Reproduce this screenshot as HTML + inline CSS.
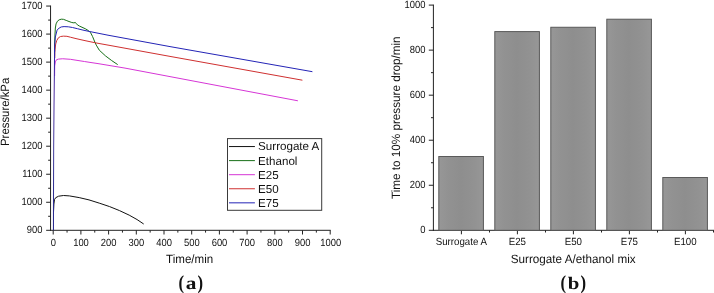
<!DOCTYPE html>
<html><head><meta charset="utf-8"><title>Figure</title>
<style>
html,body{margin:0;padding:0;background:#fff;}
body{width:714px;height:293px;overflow:hidden;}
svg{display:block;font-family:"Liberation Sans",sans-serif;}
text{fill:#111;text-rendering:geometricPrecision;}
</style></head><body>
<svg width="714" height="293" viewBox="0 0 714 293">
<defs><linearGradient id="rg" gradientUnits="userSpaceOnUse" x1="0" y1="231" x2="0" y2="50"><stop offset="0" stop-color="#24248c"/><stop offset="0.2" stop-color="#2e2e92"/><stop offset="0.45" stop-color="#4a44a0"/><stop offset="0.8" stop-color="#5634a6"/><stop offset="1" stop-color="#2a22ac"/></linearGradient><linearGradient id="bg" x1="0" x2="1" y1="0" y2="0"><stop offset="0" stop-color="#979797"/><stop offset="0.2" stop-color="#929292"/><stop offset="0.5" stop-color="#8e8e8e"/><stop offset="0.8" stop-color="#929292"/><stop offset="1" stop-color="#979797"/></linearGradient></defs>
<rect width="714" height="293" fill="#fff"/>
<g stroke="#222" stroke-width="1" fill="none" stroke-linecap="butt">
<path d="M50.55 5.56V230.8M50.05 230.3H330.7"/>
<path d="M46.15 230.30H50.55M48.15 216.29H50.55M46.15 202.27H50.55M48.15 188.25H50.55M46.15 174.24H50.55M48.15 160.23H50.55M46.15 146.21H50.55M48.15 132.19H50.55M46.15 118.18H50.55M48.15 104.17H50.55M46.15 90.15H50.55M48.15 76.14H50.55M46.15 62.12H50.55M48.15 48.11H50.55M46.15 34.09H50.55M48.15 20.08H50.55M46.15 6.06H50.55M53.20 230.3V234.5M67.05 230.3V232.60000000000002M80.90 230.3V234.5M94.75 230.3V232.60000000000002M108.60 230.3V234.5M122.45 230.3V232.60000000000002M136.30 230.3V234.5M150.15 230.3V232.60000000000002M164.00 230.3V234.5M177.85 230.3V232.60000000000002M191.70 230.3V234.5M205.55 230.3V232.60000000000002M219.40 230.3V234.5M233.25 230.3V232.60000000000002M247.10 230.3V234.5M260.95 230.3V232.60000000000002M274.80 230.3V234.5M288.65 230.3V232.60000000000002M302.50 230.3V234.5M316.35 230.3V232.60000000000002M330.20 230.3V234.5"/>
</g>
<text transform="translate(42.45 233.15) scale(0.905 1)" font-size="10.4" text-anchor="end">900</text>
<text transform="translate(42.45 205.12) scale(0.905 1)" font-size="10.4" text-anchor="end">1000</text>
<text transform="translate(42.45 177.09) scale(0.905 1)" font-size="10.4" text-anchor="end">1100</text>
<text transform="translate(42.45 149.06) scale(0.905 1)" font-size="10.4" text-anchor="end">1200</text>
<text transform="translate(42.45 121.03) scale(0.905 1)" font-size="10.4" text-anchor="end">1300</text>
<text transform="translate(42.45 93.00) scale(0.905 1)" font-size="10.4" text-anchor="end">1400</text>
<text transform="translate(42.45 64.97) scale(0.905 1)" font-size="10.4" text-anchor="end">1500</text>
<text transform="translate(42.45 36.94) scale(0.905 1)" font-size="10.4" text-anchor="end">1600</text>
<text transform="translate(42.45 8.91) scale(0.905 1)" font-size="10.4" text-anchor="end">1700</text>
<text transform="translate(53.30 245.50) scale(0.905 1)" font-size="10.4" text-anchor="middle">0</text>
<text transform="translate(81.00 245.50) scale(0.905 1)" font-size="10.4" text-anchor="middle">100</text>
<text transform="translate(108.70 245.50) scale(0.905 1)" font-size="10.4" text-anchor="middle">200</text>
<text transform="translate(136.40 245.50) scale(0.905 1)" font-size="10.4" text-anchor="middle">300</text>
<text transform="translate(164.10 245.50) scale(0.905 1)" font-size="10.4" text-anchor="middle">400</text>
<text transform="translate(191.80 245.50) scale(0.905 1)" font-size="10.4" text-anchor="middle">500</text>
<text transform="translate(219.50 245.50) scale(0.905 1)" font-size="10.4" text-anchor="middle">600</text>
<text transform="translate(247.20 245.50) scale(0.905 1)" font-size="10.4" text-anchor="middle">700</text>
<text transform="translate(274.90 245.50) scale(0.905 1)" font-size="10.4" text-anchor="middle">800</text>
<text transform="translate(302.60 245.50) scale(0.905 1)" font-size="10.4" text-anchor="middle">900</text>
<text transform="translate(330.80 245.50) scale(0.905 1)" font-size="10.4" text-anchor="middle">1000</text>
<text transform="translate(189.60 263.10) scale(0.965 1)" font-size="12" text-anchor="middle">Time/min</text>
<text transform="translate(8.90 111.85) rotate(-90) scale(0.947 1)" font-size="12" text-anchor="middle">Pressure/kPa</text>
<polyline points="53.50,212.00 53.90,204.00 54.50,199.60 55.70,197.70 58.60,196.20 63.50,195.50 69.40,195.90 79.20,197.60 89.00,199.90 99.80,203.30 109.60,206.60 119.40,210.55 129.20,215.15 137.05,219.55 143.70,224.00" fill="none" stroke="#111" stroke-width="1.0" stroke-linejoin="round"/>
<polyline points="54.54,56.00 54.60,44.00 55.00,34.00 55.35,28.00 56.05,23.90 57.45,21.20 59.20,19.80 61.30,19.20 63.40,19.30 66.20,20.40 69.00,21.50 71.80,22.50 73.90,22.85 75.30,22.50 76.00,23.20 77.40,24.85 79.50,26.10 83.00,27.70 85.80,29.00 88.80,30.90 90.70,32.90 92.50,36.40 94.00,40.00 94.80,42.00 96.25,45.10 99.30,50.20 105.50,55.90 111.60,60.50 117.70,64.60" fill="none" stroke="#187018" stroke-width="1.0" stroke-linejoin="round"/>
<polyline points="54.60,76.00 54.70,66.00 55.35,61.90 56.40,59.80 58.50,59.10 62.70,58.75 70.40,59.30 76.00,60.20 84.40,61.50 90.00,62.40 98.00,63.60 125.00,68.10 297.90,100.80" fill="none" stroke="#d636d6" stroke-width="1.0" stroke-linejoin="round"/>
<polyline points="54.75,58.00 54.80,52.00 55.00,50.00 55.70,44.00 56.75,40.50 58.50,37.70 60.60,36.50 63.40,36.15 66.90,36.30 70.40,37.20 76.00,38.60 83.00,40.20 90.00,41.70 98.00,43.30 108.00,45.10 170.00,56.40 302.40,80.20" fill="none" stroke="#cf3030" stroke-width="1.0" stroke-linejoin="round"/>
<polyline points="53.45,230.30 53.50,194.00 53.65,148.00 54.00,108.00 54.35,78.00 54.55,55.00 54.60,50.00" fill="none" stroke="url(#rg)" stroke-width="1.05"/>
<polyline points="54.55,52.00 54.60,50.00 54.75,44.00 55.35,37.00 57.10,30.10 59.20,28.00 61.30,26.95 64.10,26.60 68.30,26.80 72.50,27.50 77.40,28.70 83.00,30.10 90.00,31.60 98.00,33.20 108.00,35.20 170.00,46.60 312.40,71.70" fill="none" stroke="#2424b6" stroke-width="1.0" stroke-linejoin="round"/>
<rect x="227.5" y="138.6" width="94.2" height="71.7" fill="#fff" stroke="#3a3a3a" stroke-width="1"/>
<path d="M229 146.55H254.9" stroke="#111" stroke-width="1"/>
<text transform="translate(258.10 150.45)" font-size="11.6" text-anchor="start">Surrogate A</text>
<path d="M229 160.62H254.9" stroke="#187018" stroke-width="1"/>
<text transform="translate(258.10 164.53)" font-size="11.6" text-anchor="start">Ethanol</text>
<path d="M229 174.69H254.9" stroke="#d636d6" stroke-width="1"/>
<text transform="translate(258.10 178.61)" font-size="11.6" text-anchor="start">E25</text>
<path d="M229 188.76H254.9" stroke="#cf3030" stroke-width="1"/>
<text transform="translate(258.10 192.69)" font-size="11.6" text-anchor="start">E50</text>
<path d="M229 202.83H254.9" stroke="#2424b6" stroke-width="1"/>
<text transform="translate(258.10 206.77)" font-size="11.6" text-anchor="start">E75</text>
<text transform="translate(190.95 288.70) scale(1.19 1)" font-size="17.9" text-anchor="middle" font-family="'Liberation Serif',serif" font-weight="bold">a</text>
<text transform="translate(178.60 288.70) scale(0.85 1)" font-size="19.7" text-anchor="start" font-family="'Liberation Serif',serif" font-weight="bold">(</text>
<text transform="translate(203.00 288.70) scale(0.85 1)" font-size="19.7" text-anchor="end" font-family="'Liberation Serif',serif" font-weight="bold">)</text>
<g stroke="#222" stroke-width="1" fill="none" stroke-linecap="butt">
<path d="M433.4 4.60V230.8M432.9 230.3H714"/>
<path d="M428.80 230.30H433.4M431.00 207.78H433.4M428.80 185.26H433.4M431.00 162.74H433.4M428.80 140.22H433.4M431.00 117.70H433.4M428.80 95.18H433.4M431.00 72.66H433.4M428.80 50.14H433.4M431.00 27.62H433.4M428.80 5.10H433.4M461.40 230.3V234.3M489.50 230.3V232.5M517.40 230.3V234.3M545.50 230.3V232.5M573.40 230.3V234.3M601.50 230.3V232.5M629.40 230.3V234.3M657.50 230.3V232.5M685.40 230.3V234.3M713.50 230.3V232.5"/>
</g>
<rect x="438.80" y="156.50" width="44.6" height="73.80" fill="url(#bg)" stroke="#545454" stroke-width="0.95"/>
<rect x="494.80" y="31.60" width="44.6" height="198.70" fill="url(#bg)" stroke="#545454" stroke-width="0.95"/>
<rect x="550.80" y="27.25" width="44.6" height="203.05" fill="url(#bg)" stroke="#545454" stroke-width="0.95"/>
<rect x="606.80" y="19.20" width="44.6" height="211.10" fill="url(#bg)" stroke="#545454" stroke-width="0.95"/>
<rect x="662.80" y="177.50" width="44.6" height="52.80" fill="url(#bg)" stroke="#545454" stroke-width="0.95"/>
<text transform="translate(425.50 233.15) scale(0.905 1)" font-size="10.4" text-anchor="end">0</text>
<text transform="translate(425.50 188.11) scale(0.905 1)" font-size="10.4" text-anchor="end">200</text>
<text transform="translate(425.50 143.07) scale(0.905 1)" font-size="10.4" text-anchor="end">400</text>
<text transform="translate(425.50 98.03) scale(0.905 1)" font-size="10.4" text-anchor="end">600</text>
<text transform="translate(425.50 52.99) scale(0.905 1)" font-size="10.4" text-anchor="end">800</text>
<text transform="translate(425.50 7.95) scale(0.905 1)" font-size="10.4" text-anchor="end">1000</text>
<text transform="translate(461.30 245.00) scale(0.935 1)" font-size="10.4" text-anchor="middle">Surrogate A</text>
<text transform="translate(517.30 245.00) scale(0.935 1)" font-size="10.4" text-anchor="middle">E25</text>
<text transform="translate(573.30 245.00) scale(0.935 1)" font-size="10.4" text-anchor="middle">E50</text>
<text transform="translate(629.30 245.00) scale(0.935 1)" font-size="10.4" text-anchor="middle">E75</text>
<text transform="translate(685.30 245.00) scale(0.935 1)" font-size="10.4" text-anchor="middle">E100</text>
<text transform="translate(573.15 262.80) scale(0.975 1)" font-size="12" text-anchor="middle">Surrogate A/ethanol mix</text>
<text transform="translate(399.60 117.70) rotate(-90) scale(0.974 1)" font-size="12" text-anchor="middle">Time to 10% pressure drop/min</text>
<text transform="translate(573.60 288.70) scale(1.19 1)" font-size="17.5" text-anchor="middle" font-family="'Liberation Serif',serif" font-weight="bold">b</text>
<text transform="translate(560.40 288.70) scale(0.85 1)" font-size="19.7" text-anchor="start" font-family="'Liberation Serif',serif" font-weight="bold">(</text>
<text transform="translate(586.00 288.70) scale(0.85 1)" font-size="19.7" text-anchor="end" font-family="'Liberation Serif',serif" font-weight="bold">)</text>
</svg>
</body></html>
